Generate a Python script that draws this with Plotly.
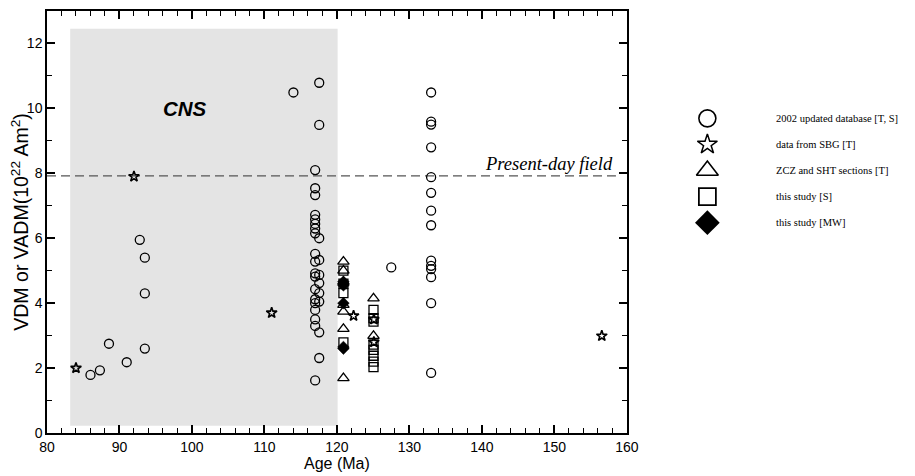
import plotly.graph_objects as go

# ---------------- data ----------------
db2002_age = [86.0, 87.3, 88.55, 91.0, 92.8, 93.5, 93.5, 93.5, 114.0,
              117.56, 117.56, 117.56, 117.56, 117.56, 117.56, 117.56, 117.56, 117.56, 117.56,
              117.0, 117.0, 117.0, 117.0, 117.0, 117.0, 117.0, 117.0, 117.0, 117.0,
              117.0, 117.0, 117.0, 117.0, 117.0, 117.0, 117.0, 117.0, 117.0,
              127.5,
              133.0, 133.0, 133.0, 133.0, 133.0, 133.0, 133.0, 133.0, 133.0, 133.0,
              133.0, 133.0, 133.0, 133.0]
db2002_vdm = [1.79, 1.93, 2.75, 2.18, 5.95, 5.4, 4.3, 2.6, 10.49,
              10.79, 9.49, 6.0, 5.33, 4.87, 4.62, 4.31, 4.05, 3.1, 2.31,
              8.1, 7.54, 7.33, 6.72, 6.58, 6.44, 6.3, 6.15, 5.52, 5.28,
              4.92, 4.82, 4.43, 4.12, 4.0, 3.79, 3.5, 3.3, 1.62,
              5.1,
              10.49, 9.59, 9.5, 8.8, 7.88, 7.4, 6.85, 6.4, 5.31, 5.15,
              5.05, 4.8, 4.0, 1.85]

sbg_age = [84.0, 92.0, 111.0, 122.3, 125.1, 125.1, 156.55]
sbg_vdm = [2.0, 7.9, 3.7, 3.61, 3.5, 2.8, 2.99]

zcz_age = [120.9, 120.9, 120.9, 120.9, 120.9, 120.9, 120.9, 125.05, 125.05]
zcz_vdm = [5.28, 5.0, 4.66, 3.95, 3.74, 3.21, 1.69, 4.15, 2.99]

s_age = [120.9, 120.9, 120.9, 120.9, 125.05, 125.05, 125.05, 125.05, 125.05, 125.05, 125.05, 125.05]
s_vdm = [5.0, 4.6, 4.31, 2.79, 3.79, 3.54, 3.43, 2.72, 2.56, 2.38, 2.2, 2.03]

mw_age = [120.9, 120.9, 120.9, 120.9, 120.9]
mw_vdm = [4.66, 4.55, 4.0, 2.65, 2.6]

present_day_field = 7.92
cns_start, cns_end = 83.2, 120.1
x_ticks = [80, 90, 100, 110, 120, 130, 140, 150, 160]
y_ticks = [0, 2, 4, 6, 8, 10, 12]

legend_labels = ["2002 updated database [T, S]", "data from SBG [T]",
                 "ZCZ and SHT sections [T]", "this study [S]", "this study [MW]"]

# ---------------- layout geometry (page body has an 8px margin) ----------------
OFF = 8
W, H = 915 - OFF, 476 - OFF
L = 46.7 - OFF
T = 10.8 - OFF
plot_right = 626.7 - OFF
plot_bottom = 433.3 - OFF
B = H - plot_bottom
x_dom_end = (plot_right - L) / (W - L)

leg_x = 707.3 - OFF          # centre of legend symbols
leg_y0 = 118.3 - OFF         # first legend row
leg_dy = 26.1                # row spacing
leg_text_dx = 67

fig = go.Figure()

def open_style(symbol, size, lw=1.3):
    return dict(symbol=symbol, size=size, color="black",
                line=dict(color="black", width=lw))

series = [
    (db2002_age, db2002_vdm, open_style("circle-open", 9)),
    (s_age, s_vdm, open_style("square-open", 9)),
    (zcz_age, zcz_vdm, open_style("triangle-up-open", 10)),
    (mw_age, mw_vdm, dict(symbol="diamond", size=9, color="black",
                          line=dict(color="black", width=0.5))),
    (sbg_age, sbg_vdm, open_style("star-open", 8, 1.6)),
]
for xs, ys, mk in series:
    fig.add_trace(go.Scatter(x=xs, y=ys, mode="markers", marker=mk,
                             showlegend=False, hoverinfo="x+y"))

# ---------------- custom legend ----------------
leg_markers = [open_style("circle-open", 17, 1.6),
               open_style("star-open", 15, 1.5),
               open_style("triangle-up-open", 19, 1.6),
               open_style("square-open", 17, 1.8),
               dict(symbol="diamond", size=19, color="black")]
for i, mk in enumerate(leg_markers):
    fig.add_trace(go.Scatter(x=[0], y=[i], mode="markers", marker=mk,
                             xaxis="x2", yaxis="y2", showlegend=False,
                             hoverinfo="skip"))
    fig.add_annotation(x=leg_text_dx, y=i, xref="x2", yref="y2", text=legend_labels[i],
                       showarrow=False, xanchor="left", yanchor="middle",
                       font=dict(family="Liberation Serif, Times New Roman, serif",
                                 size=10.5, color="black"))

# ---------------- shapes / annotations ----------------
fig.add_shape(type="rect", x0=cns_start, x1=cns_end, y0=0.22, y1=12.45,
              xref="x", yref="y", fillcolor="#e4e4e4", line=dict(width=0),
              layer="below")
fig.add_shape(type="line", x0=80, x1=158.5, y0=present_day_field, y1=present_day_field,
              xref="x", yref="y", line=dict(color="#555555", width=1.2, dash="9px,5px"),
              layer="below")
fig.add_annotation(x=158.4, y=present_day_field, xref="x", yref="y",
                   text="<i>Present-day field</i>", showarrow=False,
                   xanchor="right", yanchor="bottom", yshift=0,
                   font=dict(family="Liberation Serif, Times New Roman, serif",
                             size=18.5, color="black"))
fig.add_annotation(x=99.1, y=10.0, xref="x", yref="y", text="<b><i>CNS</i></b>",
                   showarrow=False, xanchor="center", yanchor="middle",
                   font=dict(family="Liberation Sans, Arial, sans-serif",
                             size=20.5, color="black"))

axis_common = dict(showline=True, linecolor="black", linewidth=1.5,
                   mirror="allticks", ticks="inside", ticklen=8, tickwidth=1.5,
                   tickcolor="black", showgrid=False, zeroline=False,
                   automargin=False,
                   tickfont=dict(family="Liberation Sans, Arial, sans-serif",
                                 size=14, color="black"))

fig.update_layout(
    width=W, height=H,
    margin=dict(l=L, r=0, t=T, b=B, pad=0),
    paper_bgcolor="white", plot_bgcolor="white",
    showlegend=False,
    xaxis=dict(domain=[0, x_dom_end], range=[80, 160], tickvals=x_ticks,
               minor=dict(dtick=2, ticks="inside", ticklen=5, tickwidth=1.3,
                          tickcolor="black", showgrid=False),
               title=dict(text="Age (Ma)", standoff=0,
                          font=dict(family="Liberation Sans, Arial, sans-serif",
                                    size=16, color="black")),
               **axis_common),
    yaxis=dict(range=[0, 13], tickvals=y_ticks,
               minor=dict(dtick=1, ticks="inside", ticklen=5, tickwidth=1.3,
                          tickcolor="black", showgrid=False),
               title=dict(text="VDM or VADM(10<sup>22</sup> Am<sup>2</sup>)", standoff=0,
                          font=dict(family="Liberation Sans, Arial, sans-serif",
                                    size=19.5, color="black")),
               **axis_common),
    xaxis2=dict(domain=[x_dom_end, 1],
                range=[plot_right - leg_x, W - leg_x],
                anchor="y2", visible=False, fixedrange=True),
    yaxis2=dict(domain=[0, 1],
                range=[(plot_bottom - leg_y0) / leg_dy, (T - leg_y0) / leg_dy],
                anchor="x2", visible=False, fixedrange=True),
)

fig.write_html("out.html")
